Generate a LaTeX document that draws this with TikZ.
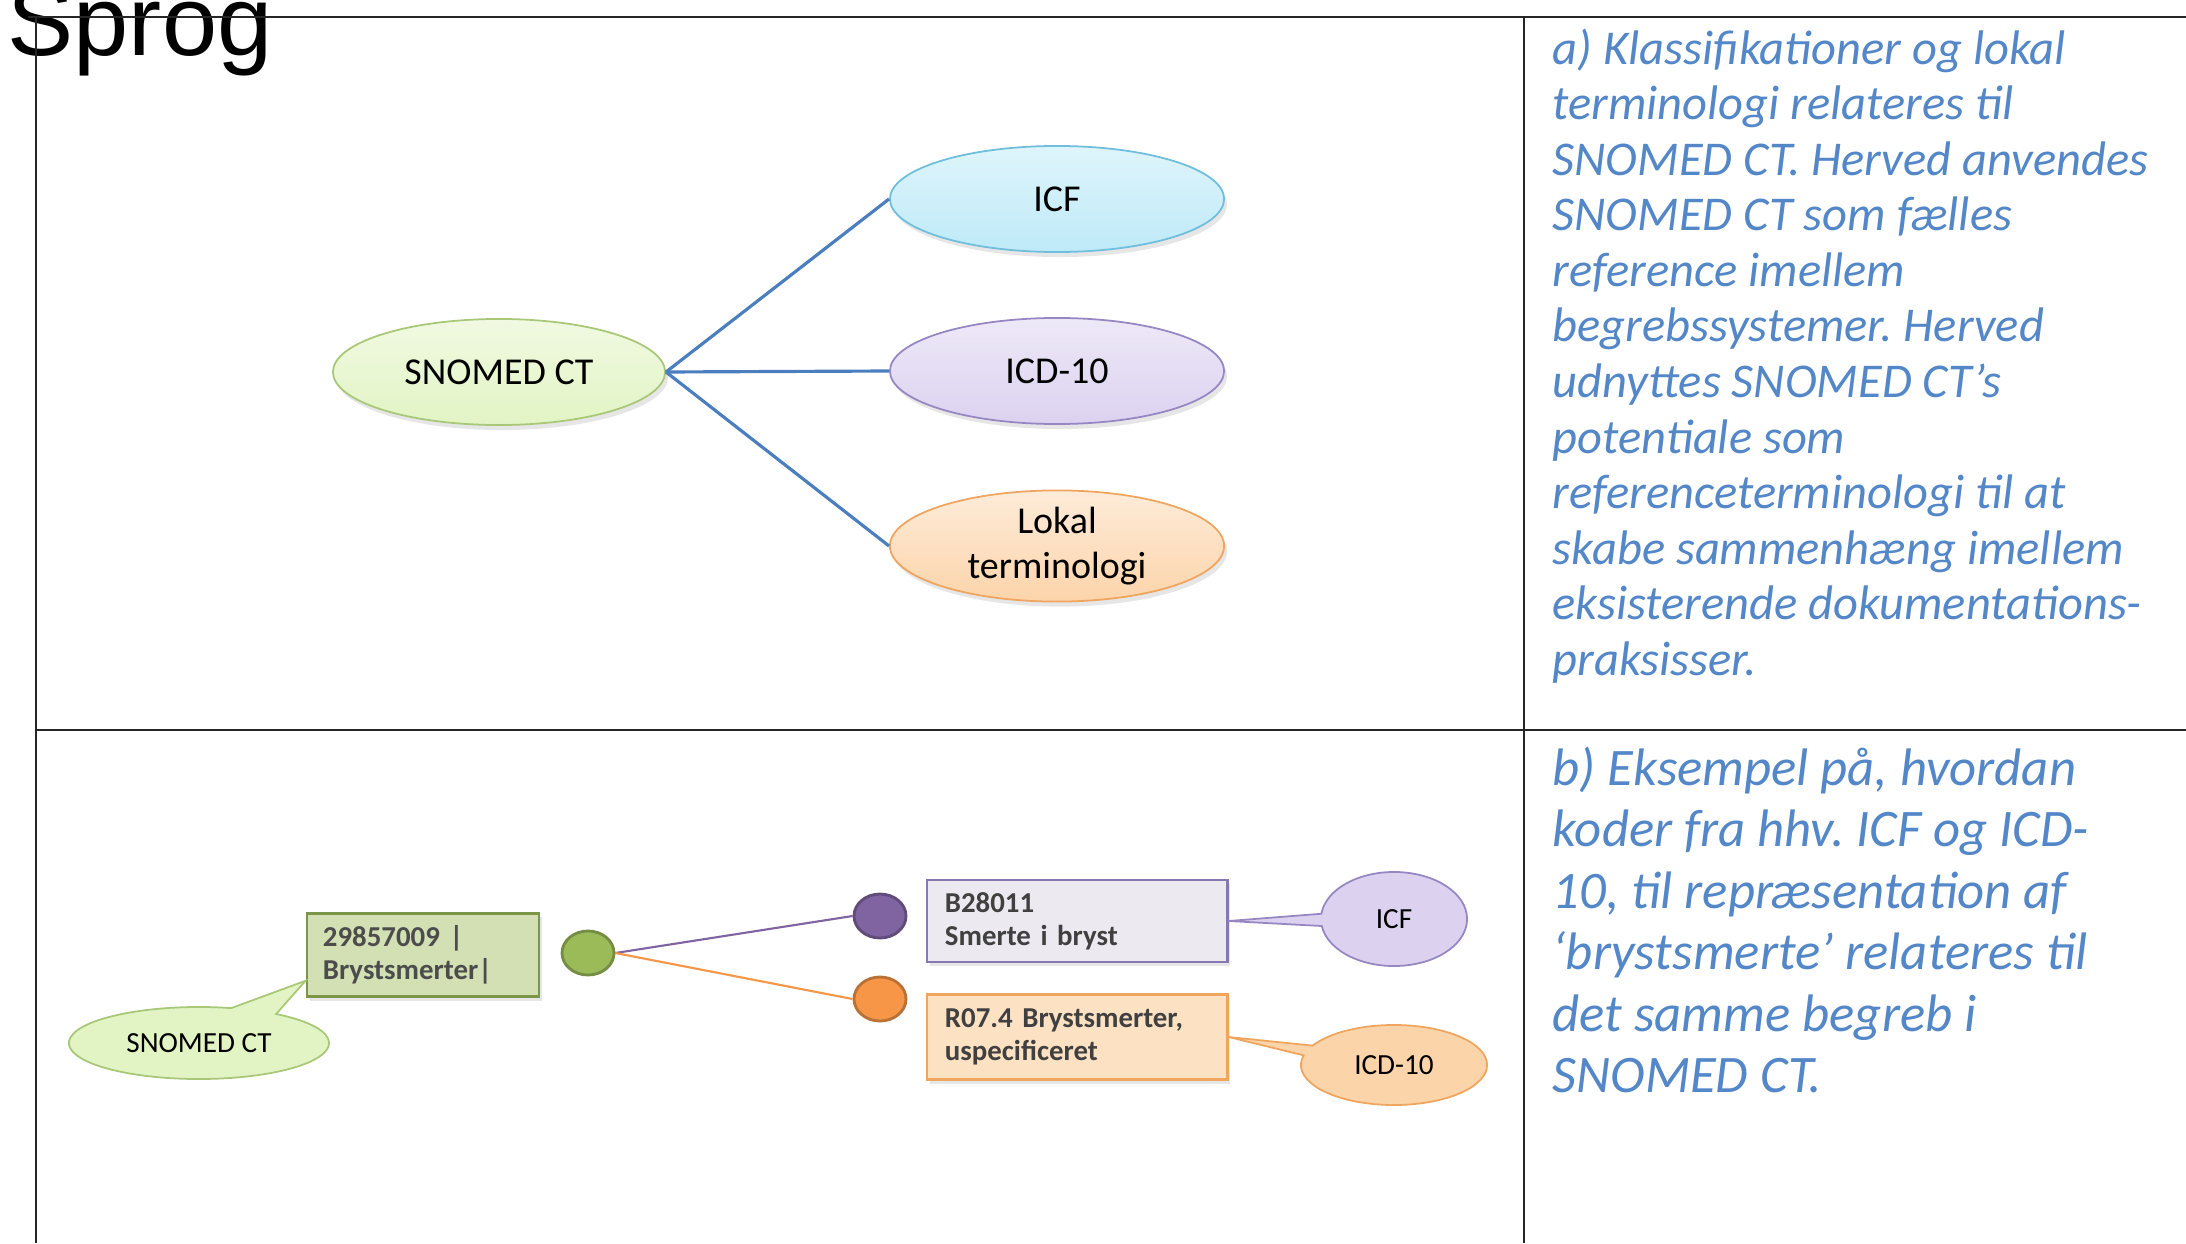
\documentclass[tikz,border=0pt]{standalone}
\usepackage{fontspec}
\setmainfont{Carlito}
\newfontfamily\sprogfont{Liberation Sans}
\usetikzlibrary{shapes.geometric,shapes.callouts,shadows,calc}
\definecolor{linkblue}{RGB}{74,126,190}
\definecolor{noteblue}{RGB}{84,135,200}
\definecolor{codegray}{RGB}{64,64,64}
\definecolor{snogreen}{RGB}{226,244,196}
\definecolor{snoline}{RGB}{168,200,120}
\definecolor{icfblue}{RGB}{190,234,248}
\definecolor{icfline}{RGB}{110,190,220}
\definecolor{icdlilac}{RGB}{220,210,240}
\definecolor{icdline}{RGB}{150,135,195}
\definecolor{lokorange}{RGB}{252,212,170}
\definecolor{lokline}{RGB}{240,165,95}
\definecolor{dotgreen}{RGB}{155,187,89}
\definecolor{dotpurple}{RGB}{128,100,162}
\definecolor{dotorange}{RGB}{247,150,70}
\frenchspacing
\tikzset{
%Define style for the frame of the table
frame line/.style={line width=0.6pt, black!85},
%Define style for the terms and their links
term/.style={ellipse, draw, line width=0.5pt, minimum width=3.34cm, minimum height=1.06cm,
  inner sep=0pt, align=center, font=\fontsize{10.8}{13}\selectfont,
  drop shadow={opacity=0.2, shadow xshift=0.03cm, shadow yshift=-0.05cm}},
link/.style={draw=linkblue, line width=0.9pt},
%Define style for the codes
codebox/.style={rectangle, draw, line width=0.8pt, minimum width=3cm, minimum height=0.83cm,
  inner xsep=0.18cm, text width=2.64cm, align=left, text=codegray,
  font=\fontsize{8.2}{9.4}\selectfont\bfseries,
  drop shadow={opacity=0.2, shadow xshift=0.03cm, shadow yshift=-0.04cm}},
codedot/.style={ellipse, draw, line width=0.8pt, minimum width=0.52cm, minimum height=0.44cm, inner sep=0pt},
tag/.style={ellipse callout, draw, line width=0.5pt, inner sep=0pt, font=\fontsize{8.3}{10}\selectfont},
note/.style={anchor=north west, inner sep=0pt, align=left, text=noteblue},
}

\begin{document}
\begin{tikzpicture}[x=0.01cm,y=-0.01cm]
    % Page
    \useasboundingbox (0,0) rectangle (2186,1243);
    \node[anchor=base west, inner sep=0pt, font=\sprogfont\fontsize{28.2}{30}\selectfont] (title) at (7,56) {Sprog};

    % Frame
    \draw[frame line] (28,17) -- (2186,17);
    \draw[frame line] (36,17) -- (36,1243);
    \draw[frame line] (1524,17) -- (1524,1243);
    \draw[frame line] (36,730) -- (2186,730);

    % a) Terms
    \node[term, draw=snoline, top color=snogreen!50, bottom color=snogreen, minimum width=3.32cm] (snomed) at (499,372) {SNOMED CT};
    \node[term, draw=icfline, top color=icfblue!50, bottom color=icfblue] (icf) at (1057,199) {ICF};
    \node[term, draw=icdline, top color=icdlilac!50, bottom color=icdlilac] (icd) at (1057,371) {ICD-10};
    \node[term, draw=lokline, top color=lokorange!45, bottom color=lokorange, minimum height=1.09cm] (lokal) at (1057,546) {Lokal\\terminologi};
    \draw[link] (snomed.east) -- (icf.west);
    \draw[link] (snomed.east) -- (icd.west);
    \draw[link] (snomed.east) -- (lokal.west);

    \node[note, font=\itshape\fontsize{13.8}{15.8}\selectfont] (notea) at (1552,28)
    {a) Klassifikationer og lokal\\terminologi relateres til\\SNOMED CT. Herved anvendes\\SNOMED CT som fælles\\reference imellem\\begrebssystemer. Herved\\udnyttes SNOMED CT's\\potentiale som\\referenceterminologi til at\\skabe sammenhæng imellem\\eksisterende dokumentations-\\praksisser.};

    % b) Codes
    \node[codebox, draw=dotgreen!80!black, fill=dotgreen!45, minimum width=2.32cm, text width=2cm, inner xsep=0.16cm, text=black!70] (concept) at (423,955) {29857009 |\\Brystsmerter|};
    \node[codedot, draw=dotgreen!75!black, fill=dotgreen] (gdot) at (588,953) {};
    \node[codedot, draw=dotpurple!75!black, fill=dotpurple] (pdot) at (880,916) {};
    \node[codedot, draw=dotorange!75!black, fill=dotorange] (odot) at (880,999) {};
    \draw[dotpurple, line width=0.6pt] (gdot.east) -- (pdot.west);
    \draw[dotorange, line width=0.6pt] (gdot.east) -- (odot.west);

    \node[codebox, draw=icdline!90!black, fill=icdlilac!70!gray!30!white, minimum height=0.82cm] (b28) at (1077,921) {B28011\\Smerte i bryst};
    \node[codebox, draw=lokline, fill=lokorange!70, minimum height=0.85cm] (r07) at (1077,1037) {R07.4 Brystsmerter,\\uspecificeret};

    % Callouts
    \coordinate (gtip) at ($(concept.south west)!0.2!(concept.north west)$);
    \node[tag, draw=snoline, fill=snogreen, minimum width=2.6cm, minimum height=0.72cm, callout pointer arc=22, callout absolute pointer=(gtip)] (snotag) at (199,1043) {SNOMED CT};
    \node[tag, draw=icdline, fill=icdlilac, minimum width=1.46cm, minimum height=0.94cm, callout absolute pointer=(b28.east)] (icftag) at (1394,919) {ICF};
    \node[tag, draw=lokline, fill=lokorange, minimum width=1.86cm, minimum height=0.8cm, callout absolute pointer=(r07.east)] (icdtag) at (1394,1065) {ICD-10};

    \node[note, font=\itshape\fontsize{15}{17.5}\selectfont] (noteb) at (1552,746)
    {b) Eksempel på, hvordan\\koder fra hhv. ICF og ICD-\\10, til repræsentation af\\‘brystsmerte’ relateres til\\det samme begreb i\\SNOMED CT.};
\end{tikzpicture}
\end{document}
